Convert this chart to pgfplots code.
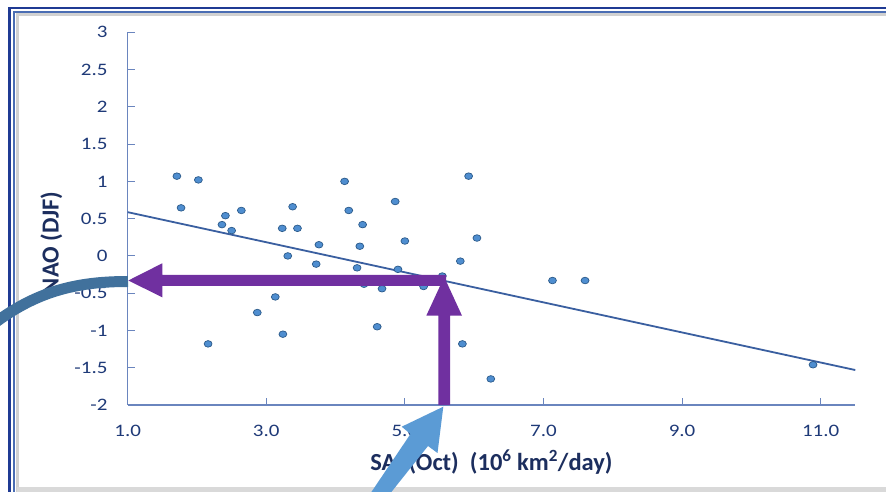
\documentclass[border=0pt]{standalone}
\usepackage{pgfplots}
\pgfplotsset{compat=1.18}
\usepackage{fontspec}
\setmainfont{Carlito}

\definecolor{axblue}{HTML}{6A85BE}
\definecolor{tickblue}{HTML}{1F3A78}
\definecolor{labblue}{HTML}{1C2E5E}
\definecolor{ptfill}{HTML}{4F8ED0}
\definecolor{ptdraw}{HTML}{2B5A8A}
\definecolor{regline}{HTML}{3A5FA0}
\definecolor{arrpurple}{HTML}{7030A0}
\definecolor{steel}{HTML}{41719C}
\definecolor{lightarr}{HTML}{5B9BD5}
\definecolor{framedark}{HTML}{1F3A93}
\definecolor{framelight}{HTML}{4A6DB3}

\begin{document}
\begin{tikzpicture}
% picture drawn in pixel units, y downwards
\begin{scope}[x=1pt,y=-1pt,yshift=492pt]
  \fill[white] (0,0) rectangle (886,492);
  % frame
  \draw[framedark, line width=2.2pt] (9.5,500) -- (9.5,7.7) -- (900,7.7);
  \draw[framelight, line width=2.2pt] (13.8,500) -- (13.8,12.2) -- (900,12.2);
  \draw[black!18, line width=3pt] (17.8,500) -- (17.8,15) -- (900,15);
  \fill[black!15] (17,487) rectangle (900,492);
\end{scope}

\begin{axis}[
    at={(127.7pt,87pt)}, anchor=south west,
    scale only axis,
    width=727.6pt, height=372.7pt,
    xmin=1, xmax=11.5, ymin=-2, ymax=3,
    axis x line*=bottom, axis y line*=left,
    axis line style={axblue, line width=1.2pt},
    major tick style={axblue, line width=1.1pt},
    major tick length=7pt,
    xtick={1,3,5,7,9,11},
    xticklabels={1.0,3.0,5.0,7.0,9.0,11.0},
    ytick={-2,-1.5,-1,-0.5,0,0.5,1,1.5,2,2.5,3},
    yticklabels={-2,-1.5,-1,-0.5,0,0.5,1,1.5,2,2.5,3},
    ticklabel style={font=\fontsize{17.5}{19}\selectfont, text=tickblue, inner sep=0pt},
    yticklabel style={anchor=east, xshift=-20pt, xscale=1.2},
    xticklabel style={anchor=north, yshift=-20pt, xscale=1.2},
    xlabel={SAI (Oct)\ \ (10\textsuperscript{6} km\textsuperscript{2}/day)},
    ylabel={NAO (DJF)},
    label style={font=\fontsize{24.5}{28}\selectfont\bfseries, text=labblue},
    xlabel style={at={(axis description cs:0.5,-0.153)}, anchor=center},
    ylabel style={at={(axis description cs:-0.105,0.435)}, anchor=center},
    clip=false,
]
% regression line
\addplot[regline, line width=1.8pt] coordinates {(1,0.587) (11.5,-1.531)};
% observations
\addplot[only marks, mark=*, mark size=3.3pt,
    mark options={xscale=1.2, fill=ptfill, draw=ptdraw, line width=0.7pt}]
    coordinates {
    (1.71,1.07) (2.02,1.02) (1.77,0.645) (2.16,-1.18) (2.41,0.54)
    (2.36,0.42) (2.50,0.34) (2.64,0.61) (2.87,-0.76) (3.13,-0.55)
    (3.24,-1.05) (3.23,0.37) (3.38,0.66) (3.45,0.37) (3.31,0.00)
    (3.76,0.15) (3.72,-0.11) (4.13,1.00) (4.19,0.61) (4.39,0.42)
    (4.35,0.13) (4.31,-0.16) (4.41,-0.38) (4.67,-0.44) (4.60,-0.95)
    (4.86,0.73) (5.00,0.20) (4.90,-0.18) (5.27,-0.41) (5.54,-0.27)
    (5.92,1.07) (6.04,0.24) (5.80,-0.07) (5.83,-1.18) (6.24,-1.65)
    (7.13,-0.33) (7.60,-0.33) (10.89,-1.46)
};
\end{axis}

% annotations on top
\begin{scope}[x=1pt,y=-1pt,yshift=492pt]
  % purple arrows
  \fill[arrpurple] (128.3,280.5) -- (162.3,263.3) -- (162.3,275) -- (446,275)
      -- (446,286) -- (162.3,286) -- (162.3,297.3) -- cycle;
  \fill[arrpurple] (438.3,405) -- (438.3,315.7) -- (426.3,315.7) -- (444.2,277)
      -- (462,315.7) -- (450,315.7) -- (450,405) -- cycle;
  % steel blue curved band from the left
  \draw[steel, line width=11pt] (-8,325) .. controls (35,292) and (75,281.5) .. (128,281.5);
  % light blue arrow from below
  \fill[lightarr] (443.3,406.7) -- (401.7,426.7) -- (410.5,434) -- (366,500)
      -- (385,500) -- (428,446) -- (437.5,453) -- cycle;
\end{scope}
\pgfresetboundingbox
\path[use as bounding box] (0,0) rectangle (886pt,492pt);
\end{tikzpicture}
\end{document}
